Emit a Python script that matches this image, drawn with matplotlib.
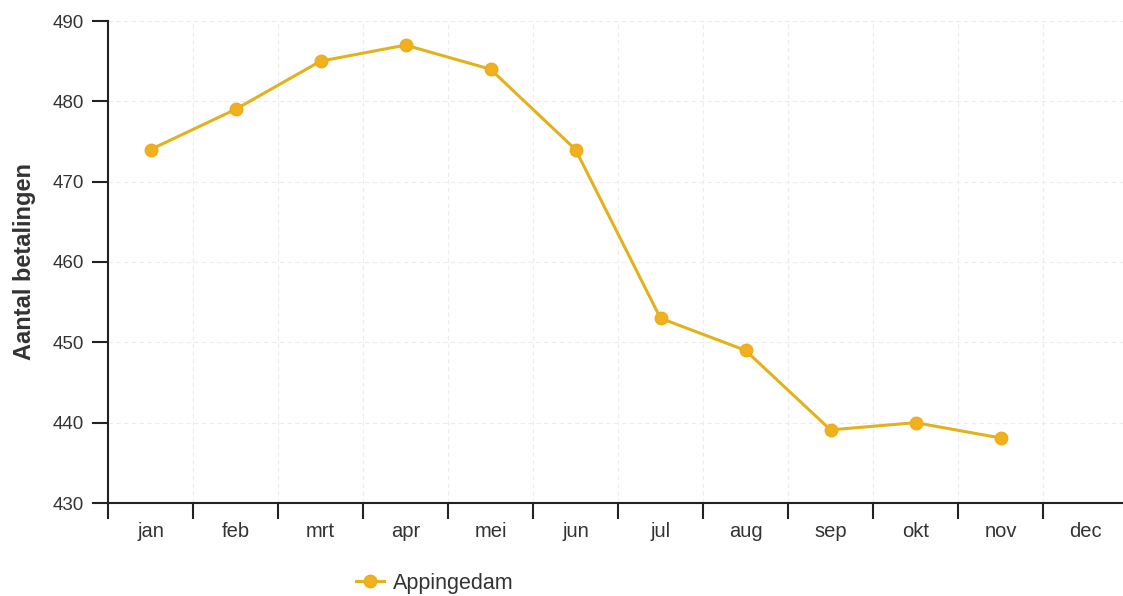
import matplotlib.pyplot as plt
from matplotlib.ticker import FixedLocator

months = ["jan", "feb", "mrt", "apr", "mei", "jun", "jul", "aug", "sep", "okt", "nov", "dec"]
appingedam = [474, 479, 485, 487, 484, 474, 453, 449, 439.1, 440, 438.1]
y_ticks = [430, 440, 450, 460, 470, 480, 490]

plt.rcParams['font.family'] = ['Liberation Sans', 'DejaVu Sans']

fig = plt.figure(figsize=(11.23, 5.96), dpi=100)
ax = fig.add_axes([108 / 1123, 93 / 596, 1020 / 1123, 482 / 596])

x = list(range(len(appingedam)))
line, = ax.plot(x, appingedam, color="#e2b21c", lw=2.2, marker="o", markersize=9,
                markerfacecolor="#f2b01e", markeredgecolor="#eaae1a", label="Appingedam")

ax.set_xlim(-0.5, len(months) - 0.5)
ax.set_ylim(430, 490)
ax.set_yticks(y_ticks)
ax.set_xticks(range(len(months)))
ax.set_xticklabels(months)
ax.xaxis.set_minor_locator(FixedLocator([i - 0.5 for i in range(len(months) + 1)]))

ax.tick_params(axis="x", which="major", length=0, pad=14, labelsize=14.5, labelcolor="#333333")
ax.tick_params(axis="x", which="minor", length=11.5, width=1.5, color="#222222", direction="out")
ax.tick_params(axis="y", length=11.5, width=1.5, color="#222222", labelsize=13.5,
               labelcolor="#333333", pad=6)

for s in ["top", "right"]:
    ax.spines[s].set_visible(False)
for s in ["left", "bottom"]:
    ax.spines[s].set_linewidth(1.5)
    ax.spines[s].set_color("#222222")

ax.grid(True, which="minor", axis="x", color="#ececec", linestyle=(0, (4, 3)), lw=0.8)
ax.grid(True, which="major", axis="y", color="#ececec", linestyle=(0, (4, 3)), lw=0.8)
ax.set_axisbelow(True)

ax.set_ylabel("Aantal betalingen", fontsize=17, fontweight="bold", color="#333333", labelpad=12)

fig.legend(handles=[line], loc="center left", bbox_to_anchor=(337 / 1123, 1 - 583 / 596),
           frameon=False, fontsize=15.5, handlelength=1.3, handletextpad=0.4,
           labelcolor="#333333")

fig.savefig("out.png", dpi=100)
